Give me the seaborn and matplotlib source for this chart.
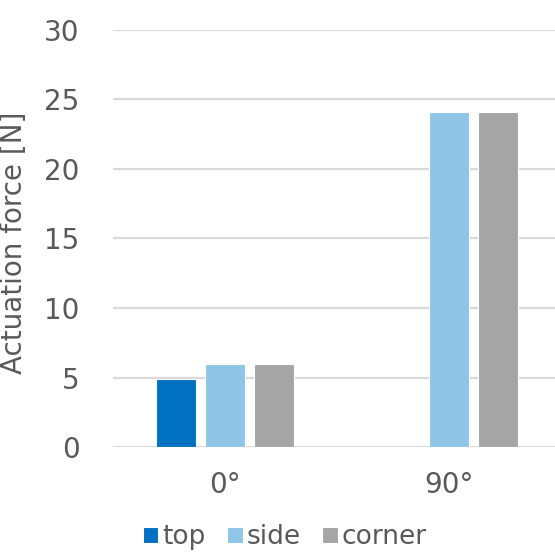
import pandas as pd
import seaborn as sns
import matplotlib.pyplot as plt

angles = ['0°', '90°']
positions = ['top', 'side', 'corner']
top_force = [4.9, 0.0]
side_force = [6.0, 24.1]
corner_force = [6.0, 24.1]
colors = ['#0070C0', '#8FC6E8', '#A5A5A5']

df = pd.DataFrame({
    'angle': angles * 3,
    'position': [p for p in positions for _ in angles],
    'force': top_force + side_force + corner_force,
})
df = df[~((df['position'] == 'top') & (df['force'] == 0))]

sns.set_style('white')
plt.rcParams['font.family'] = ['DejaVu Sans']
text_col = '#595959'

fig = plt.figure(figsize=(5.55, 5.54), dpi=100)
ax = fig.add_axes([0.2036, 0.193, 0.807, 0.753])
sns.barplot(data=df, x='angle', y='force', hue='position', order=angles,
            hue_order=positions, palette=colors, saturation=1, width=0.656, gap=0.17,
            edgecolor='white', linewidth=0.8, ax=ax, legend=True)

ax.set_ylim(0, 30)
ax.set_yticks(range(0, 31, 5))
ax.yaxis.grid(True, color='#D9D9D9', linewidth=1.6)
ax.set_axisbelow(True)
for s in ax.spines.values():
    s.set_visible(False)
ax.tick_params(axis='both', length=0, labelsize=20, colors=text_col)
ax.tick_params(axis='y', pad=24)
ax.tick_params(axis='x', pad=17)
ax.set_xlabel('')
ax.set_ylabel('Actuation force [N]', fontsize=20, color=text_col)
ax.yaxis.set_label_coords(-0.19, 0.49)

ax.legend(loc='lower center', bbox_to_anchor=(0.513, -0.022), bbox_transform=fig.transFigure,
          ncol=3, frameon=False, fontsize=19, labelcolor=text_col, handlelength=0.6,
          handleheight=0.6, handletextpad=0.15, columnspacing=0.8, borderpad=0.1)

fig.savefig('out.png', dpi=100)
